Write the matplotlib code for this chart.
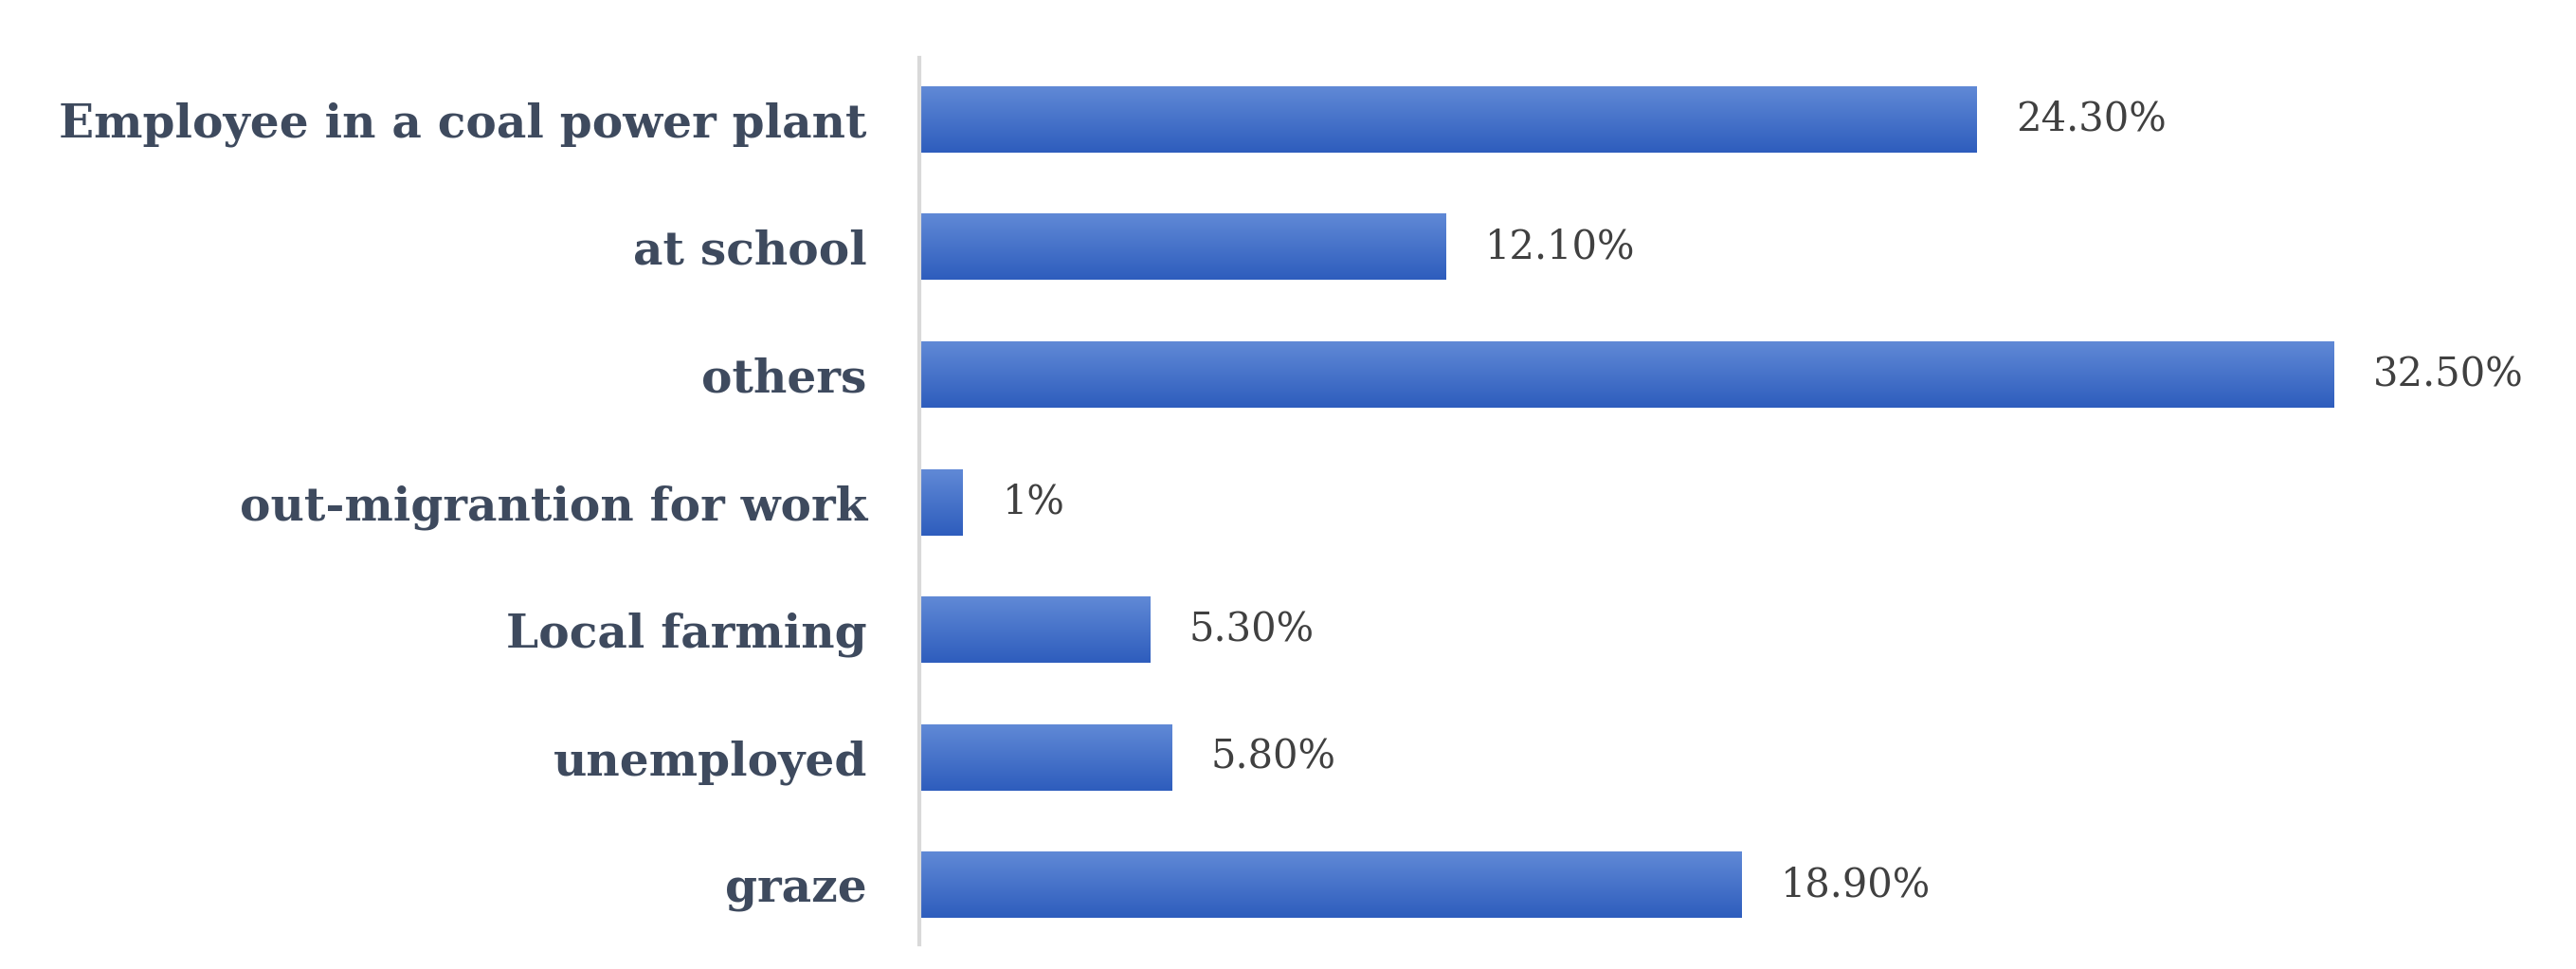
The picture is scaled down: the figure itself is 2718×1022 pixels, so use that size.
import numpy as np
import matplotlib.pyplot as plt
from matplotlib.colors import LinearSegmentedColormap

categories = ['Employee in a coal power plant', 'at school', 'others',
              'out-migrantion for work', 'Local farming', 'unemployed', 'graze']
values = [24.3, 12.1, 32.5, 1.0, 5.3, 5.8, 18.9]
value_labels = ['24.30%', '12.10%', '32.50%', '1%', '5.30%', '5.80%', '18.90%']

fig = plt.figure(figsize=(27.18, 10.22), dpi=100)
ax = fig.add_axes([0.357, 0.025, 0.549, 0.915])

y = np.arange(len(categories))
h = 0.52
bars = ax.barh(y, values, height=h, color='#3a67c4')

# vertical gradient on each bar, lighter at the top
grad = np.linspace(0, 1, 100).reshape(-1, 1)
cmap = LinearSegmentedColormap.from_list('g', ['#6089d6', '#2e5dbd'])
for b in bars:
    x0, y0, w, hh = b.get_x(), b.get_y(), b.get_width(), b.get_height()
    ax.imshow(grad, cmap=cmap, aspect='auto', extent=(x0, x0 + w, y0 + hh, y0), zorder=2)
    b.set_visible(False)

for yi, v, lab in zip(y, values, value_labels):
    ax.text(v + 0.9, yi, lab, va='center', ha='left', fontsize=30,
            family='DejaVu Serif', color='#404040')

ax.set_xlim(0, 32.5)
ax.set_ylim(6.47, -0.48)
ax.set_yticks(y)
ax.set_yticklabels(categories, fontsize=35, fontweight='bold',
                   family='DejaVu Serif', color='#3e4a5e')
ax.tick_params(axis='y', length=0, pad=40)
ax.set_xticks([])
for s in ['top', 'right', 'bottom']:
    ax.spines[s].set_visible(False)
ax.spines['left'].set_color('#d9d9d9')
ax.spines['left'].set_linewidth(3)

fig.savefig('out.png')
plt.close()
